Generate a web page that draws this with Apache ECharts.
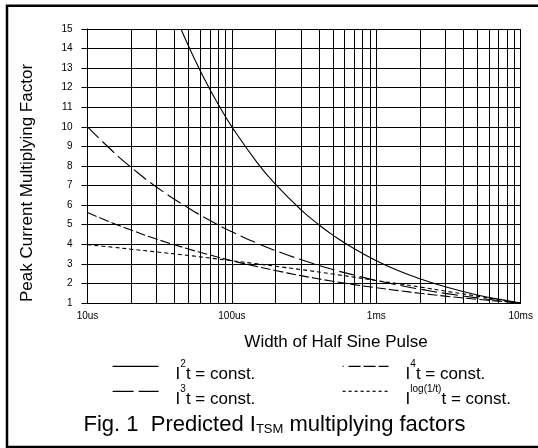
<!DOCTYPE html>
<html><head><meta charset="utf-8">
<script src="https://cdn.jsdelivr.net/npm/echarts@6/dist/echarts.min.js"></script>
<style>html,body{margin:0;padding:0;background:#fff}#c{width:538px;height:448px}</style>
</head><body><div id="c"></div>
<script>
const FONT = '"Liberation Sans", Arial, Helvetica, sans-serif';

// x axis (pulse width in microseconds, log scale)
const tickValues = [10, 100, 1000, 10000];
const tickLabels = ['10us', '100us', '1ms', '10ms'];
const minorGrid = [20, 30, 40, 50, 60, 70, 80, 90,
                   200, 300, 400, 500, 600, 700, 800, 900,
                   2000, 3000, 4000, 5000, 6000, 7000, 8000, 9000];

// series
const tI2 = [44.4, 50, 60, 70, 80, 100, 150, 200, 300, 400, 500, 700, 1000, 1500, 2000, 3000, 5000, 7000, 10000];
const vI2 = [15, 14.14, 12.91, 11.95, 11.18, 10, 8.16, 7.07, 5.77, 5.0, 4.47, 3.78, 3.16, 2.58, 2.24, 1.83, 1.41, 1.20, 1];

const tRest = [10, 15, 20, 30, 50, 70, 100, 150, 200, 300, 500, 700, 1000, 1500, 2000, 3000, 5000, 7000, 10000];
const vI3 = [10, 8.74, 7.94, 6.93, 5.85, 5.23, 4.64, 4.05, 3.68, 3.22, 2.71, 2.43, 2.15, 1.88, 1.71, 1.49, 1.26, 1.13, 1];
const vI4 = [5.62, 5.08, 4.73, 4.27, 3.76, 3.46, 3.16, 2.86, 2.66, 2.40, 2.11, 1.94, 1.78, 1.61, 1.50, 1.35, 1.19, 1.09, 1];
const vLog = [3.98, 3.85, 3.75, 3.61, 3.43, 3.30, 3.16, 3.00, 2.88, 2.71, 2.48, 2.32, 2.15, 1.96, 1.82, 1.61, 1.35, 1.18, 1];

const seriesNames = ['I2t', 'I3t', 'I4t', 'Ilogt'];
const legendSup = ['2', '3', '4', 'log(1/t)'];
const legendText = 't = const.';

const yTitle = 'Peak Current Multiplying Factor';
const xTitle = 'Width of Half Sine Pulse';

function pairs(t, v) { return t.map((x, i) => [x, v[i]]); }

const chart = echarts.init(document.getElementById('c'), null, { renderer: 'canvas' });

const legendRich = {
  sp: { width: 12, height: 34, lineHeight: 34, fontSize: 17, fontFamily: FONT },
  m: { fontSize: 17, fontFamily: FONT, color: '#000', height: 17, lineHeight: 17, verticalAlign: 'bottom' },
  s: { fontSize: 10, fontFamily: FONT, color: '#000', height: 29, lineHeight: 29, verticalAlign: 'top' }
};
const legendPos = [[112, 349.3], [112, 374.3], [342, 349.3], [342, 374.3]];
const legendDash = ['solid', [21, 5], [1, 5, 12, 3, 12, 3, 10, 10], [3, 3]];

const legends = [0, 1, 2, 3].map((k) => ({
  data: [seriesNames[k]],
  left: legendPos[k][0],
  top: legendPos[k][1],
  padding: 0,
  itemWidth: 46,
  itemHeight: 14,
  selectedMode: false,
  itemStyle: { opacity: 0 },
  lineStyle: { type: legendDash[k], width: 1.2, color: '#000' },
  formatter: () => '{sp| }{m|I}{s|' + legendSup[k] + '}{m|' + legendText + '}',
  textStyle: { rich: legendRich }
}));

const lineStyles = [
  { color: '#000', width: 1.1, type: 'solid' },
  { color: '#000', width: 1.1, type: [16, 5] },
  { color: '#000', width: 1.1, type: [10, 3] },
  { color: '#000', width: 1.1, type: [4, 3] }
];
const seriesData = [pairs(tI2, vI2), pairs(tRest, vI3), pairs(tRest, vI4), pairs(tRest, vLog)];

const lineSeries = seriesNames.map((n, i) => ({
  name: n,
  type: 'line',
  data: seriesData[i],
  symbol: 'none',
  smooth: 0.5,
  lineStyle: lineStyles[i],
  itemStyle: { color: '#000' },
  z: 5,
  silent: true
}));

const gridSeries = {
  type: 'custom',
  silent: true,
  z: 1,
  data: minorGrid.map(v => [v, 1]),
  encode: { x: 0, y: 1 },
  renderItem: function (params, api) {
    const p0 = api.coord([api.value(0), 1]);
    const p1 = api.coord([api.value(0), 15]);
    const x = Math.round(p0[0]) + 0.5;
    return {
      type: 'line',
      shape: { x1: x, y1: p0[1], x2: x, y2: p1[1] },
      style: { stroke: '#000', lineWidth: 1 }
    };
  }
};

chart.setOption({
  animation: false,
  backgroundColor: '#fff',
  textStyle: { fontFamily: FONT, color: '#000' },
  grid: { left: 87.5, right: 17.3, top: 29, bottom: 145, containLabel: false },
  legend: legends,
  xAxis: {
    type: 'log',
    logBase: 10,
    min: 10,
    max: 10000,
    axisLine: { show: true, lineStyle: { color: '#000', width: 1 } },
    axisTick: { show: false },
    splitLine: { show: true, lineStyle: { color: '#000', width: 1 } },
    axisLabel: {
      color: '#000', fontSize: 10, fontFamily: FONT, margin: 8,
      formatter: function (v) {
        const i = tickValues.findIndex(t => Math.abs(t - v) < 1e-6 * t);
        return i >= 0 ? tickLabels[i] : '';
      }
    }
  },
  yAxis: {
    type: 'value',
    min: 1,
    max: 15,
    interval: 1,
    axisLine: { show: true, lineStyle: { color: '#000', width: 1 } },
    axisTick: { show: true, length: 6, inside: false, lineStyle: { color: '#000', width: 1 } },
    splitLine: { show: true, lineStyle: { color: '#000', width: 1 } },
    axisLabel: { color: '#000', fontSize: 10, fontFamily: FONT, margin: 15 }
  },
  series: [gridSeries].concat(lineSeries),
  graphic: [
    {
      type: 'polyline', silent: true, z: 100,
      shape: { points: [[538, 5.8], [7, 5.8], [7, 447], [538, 447]] },
      style: { stroke: '#000', lineWidth: 2.5, fill: null }
    },
    {
      type: 'text', x: 27, y: 183, rotation: Math.PI / 2, silent: true,
      style: { text: yTitle, fontSize: 17, fontFamily: FONT, fill: '#000', align: 'center', verticalAlign: 'middle' }
    },
    {
      type: 'text', x: 336, y: 342, silent: true,
      style: { text: xTitle, fontSize: 17, fontFamily: FONT, fill: '#000', align: 'center', verticalAlign: 'middle' }
    },
    {
      type: 'text', x: 274.5, y: 425, silent: true,
      style: {
        text: '{a|Fig. 1  Predicted I}{b|TSM}{a| multiplying factors}',
        align: 'center', verticalAlign: 'middle',
        rich: {
          a: { fontSize: 22, fontFamily: FONT, fill: '#000', color: '#000', lineHeight: 22, verticalAlign: 'bottom' },
          b: { fontSize: 13, fontFamily: FONT, fill: '#000', color: '#000', lineHeight: 13, verticalAlign: 'bottom' }
        }
      }
    }
  ]
});
</script>
</body></html>
